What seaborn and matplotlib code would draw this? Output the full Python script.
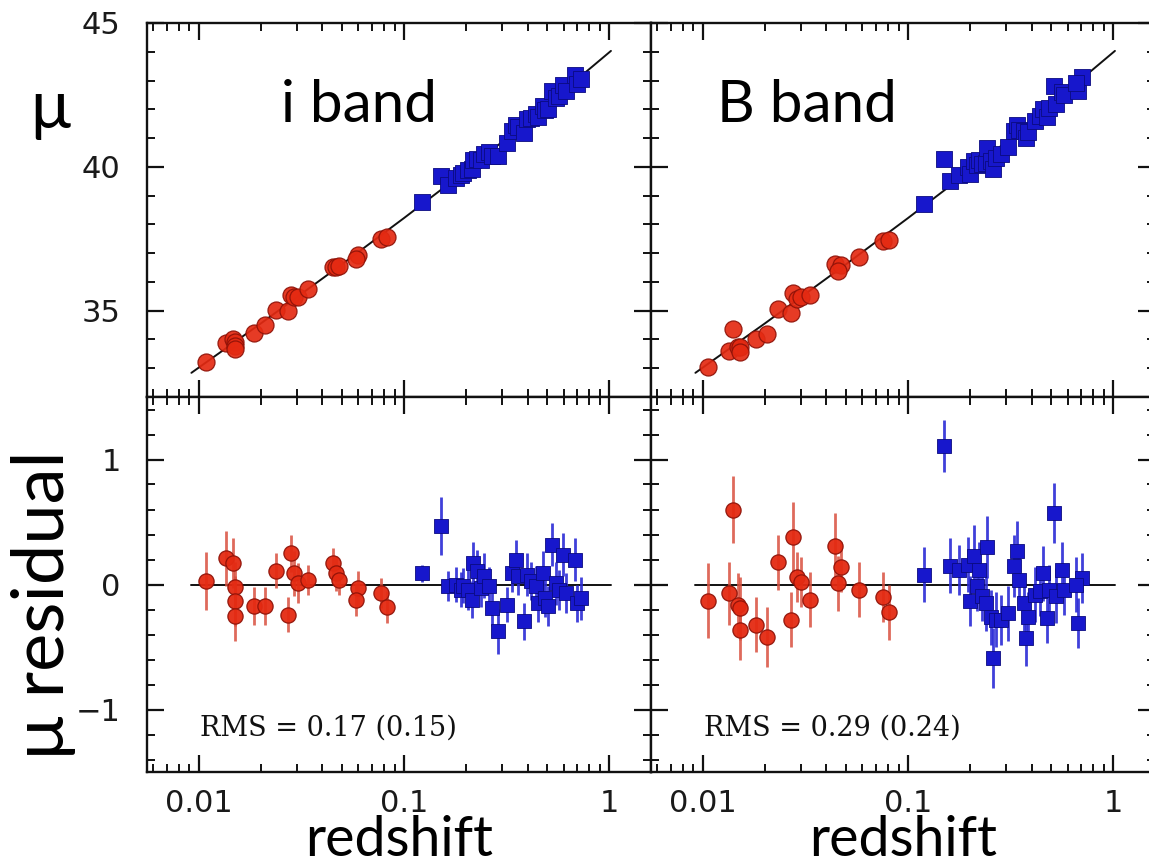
import matplotlib
matplotlib.use("Agg")
import matplotlib.pyplot as plt
import seaborn as sns
from matplotlib.ticker import FixedLocator, LogLocator, MultipleLocator, NullFormatter, FixedFormatter

# ---- best-fit Hubble line ----
line_z = [0.0092, 0.02, 0.05, 0.1, 0.2, 0.3, 0.5, 0.7, 1.02]
line_mu = [32.84, 34.55, 36.62, 38.22, 39.86, 40.86, 42.16, 43.05, 44.03]

# ---- i band : low-z (red) sample ----
i_red_z = [0.0108, 0.0135, 0.0146, 0.0150, 0.0150, 0.0150, 0.0186, 0.0210, 0.0237, 0.0272, 0.0281,
           0.0291, 0.0304, 0.0339, 0.0449, 0.0467, 0.0481, 0.0594, 0.0582, 0.0771, 0.0826]
i_red_mu = [33.23, 33.89, 34.03, 33.90, 33.79, 33.67, 34.22, 34.49, 35.03, 34.99, 35.55,
            35.47, 35.49, 35.75, 36.52, 36.52, 36.54, 36.95, 36.81, 37.50, 37.55]
i_red_res = [0.03, 0.21, 0.17, -0.02, -0.13, -0.25, -0.17, -0.17, 0.11, -0.24, 0.25,
             0.09, 0.01, 0.04, 0.17, 0.09, 0.04, -0.03, -0.12, -0.07, -0.18]
i_red_err = [0.23, 0.22, 0.20, 0.20, 0.20, 0.20, 0.15, 0.15, 0.14, 0.14, 0.15,
             0.18, 0.16, 0.12, 0.12, 0.14, 0.12, 0.14, 0.13, 0.12, 0.13]

# ---- i band : high-z (blue) sample ----
i_blue_z = [0.122, 0.152, 0.164, 0.179, 0.190, 0.194, 0.206, 0.214, 0.218, 0.227, 0.237, 0.246,
            0.261, 0.267, 0.287, 0.317, 0.337, 0.353, 0.360, 0.383, 0.398, 0.414, 0.440, 0.449,
            0.476, 0.486, 0.506, 0.527, 0.548, 0.571, 0.594, 0.618, 0.684, 0.697, 0.726]
i_blue_mu = [38.78, 39.68, 39.38, 39.60, 39.70, 39.78, 39.89, 39.91, 40.24, 40.28, 40.25, 40.44,
             40.51, 40.38, 40.38, 40.84, 41.24, 41.47, 41.39, 41.18, 41.65, 41.70, 41.82, 41.73,
             42.12, 41.98, 42.02, 42.62, 42.41, 42.47, 42.86, 42.65, 43.19, 42.89, 43.04]
i_blue_res = [0.09, 0.47, -0.01, 0.00, -0.04, -0.01, -0.04, -0.12, 0.17, 0.11, -0.03, 0.07,
              -0.01, -0.19, -0.375, -0.16, 0.09, 0.20, 0.07, -0.295, 0.08, 0.03, -0.01, -0.15,
              0.09, -0.11, -0.17, 0.32, 0.01, -0.04, 0.24, -0.07, 0.20, -0.15, -0.11]
i_blue_err = [0.07, 0.23, 0.12, 0.14, 0.14, 0.14, 0.16, 0.15, 0.17, 0.17, 0.15, 0.18,
              0.15, 0.14, 0.18, 0.14, 0.15, 0.16, 0.15, 0.15, 0.17, 0.15, 0.16, 0.15,
              0.18, 0.15, 0.16, 0.17, 0.17, 0.16, 0.17, 0.16, 0.17, 0.15, 0.17]

# ---- B band : low-z (red) sample ----
b_red_z = [0.0106, 0.0134, 0.0140, 0.0148, 0.0151, 0.0151, 0.0182, 0.0206, 0.0232, 0.0270,
           0.0275, 0.0288, 0.0302, 0.0332, 0.0440, 0.0470, 0.0456, 0.0580, 0.0753, 0.0805]
b_red_mu = [33.03, 33.60, 34.37, 33.73, 33.74, 33.57, 34.02, 34.19, 35.06, 34.93,
            35.63, 35.42, 35.48, 35.56, 36.61, 36.59, 36.39, 36.88, 37.42, 37.45]
b_red_res = [-0.13, -0.07, 0.60, -0.16, -0.19, -0.36, -0.32, -0.42, 0.18, -0.28,
             0.38, 0.06, 0.02, -0.12, 0.31, 0.14, 0.01, -0.04, -0.10, -0.22]
b_red_err = [0.30, 0.25, 0.27, 0.25, 0.25, 0.24, 0.22, 0.24, 0.22, 0.22,
             0.28, 0.20, 0.20, 0.22, 0.26, 0.20, 0.22, 0.22, 0.20, 0.22]

# ---- B band : high-z (blue) sample ----
b_blue_z = [0.119, 0.149, 0.161, 0.178, 0.197, 0.201, 0.209, 0.217, 0.221, 0.230, 0.239, 0.244,
            0.254, 0.259, 0.269, 0.285, 0.308, 0.327, 0.340, 0.347, 0.368, 0.375, 0.383, 0.414,
            0.439, 0.457, 0.475, 0.485, 0.514, 0.524, 0.566, 0.578, 0.676, 0.703, 0.662]
b_blue_mu = [38.71, 40.27, 39.50, 39.70, 39.98, 39.74, 40.20, 40.05, 40.23, 40.11, 40.15, 40.65,
             40.19, 39.91, 40.31, 40.45, 40.70, 41.23, 41.44, 41.27, 41.23, 40.99, 41.21, 41.59,
             41.78, 42.02, 41.75, 42.04, 42.80, 42.19, 42.61, 42.50, 42.65, 43.11, 42.90]
b_blue_res = [0.08, 1.11, 0.15, 0.12, 0.16, -0.13, 0.23, -0.01, 0.12, -0.09, -0.15, 0.30,
              -0.26, -0.59, -0.28, -0.28, -0.23, 0.15, 0.27, 0.04, -0.15, -0.43, -0.26, -0.08,
              -0.05, 0.09, -0.27, -0.04, 0.57, -0.09, 0.12, -0.04, -0.31, 0.05, 0.00]
b_blue_err = [0.22, 0.21, 0.22, 0.20, 0.22, 0.20, 0.25, 0.20, 0.22, 0.20, 0.22, 0.25,
              0.22, 0.24, 0.22, 0.20, 0.22, 0.25, 0.24, 0.22, 0.22, 0.22, 0.20, 0.22,
              0.20, 0.22, 0.20, 0.20, 0.24, 0.22, 0.22, 0.20, 0.20, 0.20, 0.22]

band_names = ["i band", "B band"]
rms_labels = ["RMS = 0.17 (0.15)", "RMS = 0.29 (0.24)"]
x_tick_values = [0.01, 0.1, 1]
x_tick_labels = ["0.01", "0.1", "1"]

RED, RED_EDGE, RED_BAR = "#e42a12", "#8e1208", "#d9503f"
BLUE, BLUE_EDGE, BLUE_BAR = "#1717cc", "#0b0b80", "#2b2bd6"
BIG_FONT = ["Lato", "DejaVu Sans"]

sns.set_theme(style="ticks")
plt.rcParams["font.family"] = ["DejaVu Sans"]
plt.rcParams["axes.linewidth"] = 1.7

fig = plt.figure(figsize=(11.49, 8.66), dpi=100)
W, H = 1149.0, 866.0
col_left = [147 / W, 651 / W]
pw = 504 / W
top_box = (1 - 397 / H, 374 / H)
bot_box = (1 - 772 / H, 375 / H)

XLIM = (0.00559, 1.599)


def style(ax, top_row, left_col):
    ax.set_xscale("log")
    ax.set_xlim(*XLIM)
    ax.xaxis.set_major_locator(FixedLocator(x_tick_values))
    ax.xaxis.set_minor_locator(LogLocator(base=10, subs=range(2, 10)))
    ax.xaxis.set_minor_formatter(NullFormatter())
    if top_row:
        ax.set_ylim(32, 45)
        ax.yaxis.set_major_locator(MultipleLocator(5))
        ax.yaxis.set_minor_locator(MultipleLocator(1))
        ax.xaxis.set_major_formatter(NullFormatter())
    else:
        ax.set_ylim(-1.5, 1.5)
        ax.yaxis.set_major_locator(MultipleLocator(1))
        ax.yaxis.set_minor_locator(MultipleLocator(0.2))
        ax.xaxis.set_major_formatter(FixedFormatter(x_tick_labels))
    ax.tick_params(which="both", direction="in", top=True, right=True,
                   bottom=True, left=True, color="#111111")
    ax.tick_params(which="major", length=12, width=1.6, labelsize=22,
                   labelcolor="#1a1a1a")
    ax.tick_params(which="minor", length=6, width=1.4)
    ax.tick_params(axis="y", which="major", pad=19)
    ax.tick_params(axis="x", which="major", pad=12)
    if not left_col:
        ax.tick_params(labelleft=False)
    for s in ax.spines.values():
        s.set_color("#111111")
    ax.set_xlabel("")
    ax.set_ylabel("")


bands = [
    (i_red_z, i_red_mu, i_red_res, i_red_err, i_blue_z, i_blue_mu, i_blue_res, i_blue_err),
    (b_red_z, b_red_mu, b_red_res, b_red_err, b_blue_z, b_blue_mu, b_blue_res, b_blue_err),
]

for k, (rz, rmu, rres, rerr, bz, bmu, bres, berr) in enumerate(bands):
    ax_t = fig.add_axes([col_left[k], top_box[0], pw, top_box[1]])
    ax_b = fig.add_axes([col_left[k], bot_box[0], pw, bot_box[1]])

    # Hubble diagram
    sns.lineplot(x=line_z, y=line_mu, ax=ax_t, color="#111111", lw=1.4,
                 estimator=None, sort=False, zorder=2)
    sns.scatterplot(x=rz, y=rmu, ax=ax_t, marker="o", s=150, color=RED,
                    edgecolor=RED_EDGE, linewidth=0.9, alpha=0.92, zorder=3)
    sns.scatterplot(x=bz, y=bmu, ax=ax_t, marker="s", s=125, color=BLUE,
                    edgecolor=BLUE_EDGE, linewidth=0.6, zorder=3)
    ax_t.text(0.42 if k == 0 else 0.31, 0.735, band_names[k], transform=ax_t.transAxes,
              ha="center", va="baseline", fontsize=42, family=BIG_FONT, color="black")

    # residuals
    sns.lineplot(x=[line_z[0], line_z[-1]], y=[0, 0], ax=ax_b, color="#111111", lw=1.4,
                 estimator=None, sort=False, zorder=2)
    ax_b.errorbar(rz, rres, yerr=rerr, fmt="none", ecolor=RED_BAR, elinewidth=2.0,
                  capsize=0, alpha=0.85, zorder=2.5)
    ax_b.errorbar(bz, bres, yerr=berr, fmt="none", ecolor=BLUE_BAR, elinewidth=2.0,
                  capsize=0, alpha=0.9, zorder=2.5)
    sns.scatterplot(x=rz, y=rres, ax=ax_b, marker="o", s=120, color=RED,
                    edgecolor=RED_EDGE, linewidth=0.9, alpha=0.95, zorder=3)
    sns.scatterplot(x=bz, y=bres, ax=ax_b, marker="s", s=95, color=BLUE,
                    edgecolor=BLUE_EDGE, linewidth=0.6, zorder=3)
    ax_b.text(0.0101, -1.15, rms_labels[k], ha="left", va="center", fontsize=19.5,
              family=["DejaVu Serif"], color="#111111")

    style(ax_t, True, k == 0)
    style(ax_b, False, k == 0)

    fig.text((col_left[k] * W + 252) / W, 0.0, "redshift", ha="center", va="bottom",
             fontsize=40, family=BIG_FONT, color="black")

fig.text(50 / W, 1 - 128 / H, "\u03bc", ha="center", va="baseline", fontsize=48,
         family=BIG_FONT, color="black")
fig.text(44 / W, 1 - 605 / H, "\u03bc residual", ha="center", va="center", rotation=90,
         fontsize=52, family=BIG_FONT, color="black")

fig.savefig("out.png", dpi=100)
